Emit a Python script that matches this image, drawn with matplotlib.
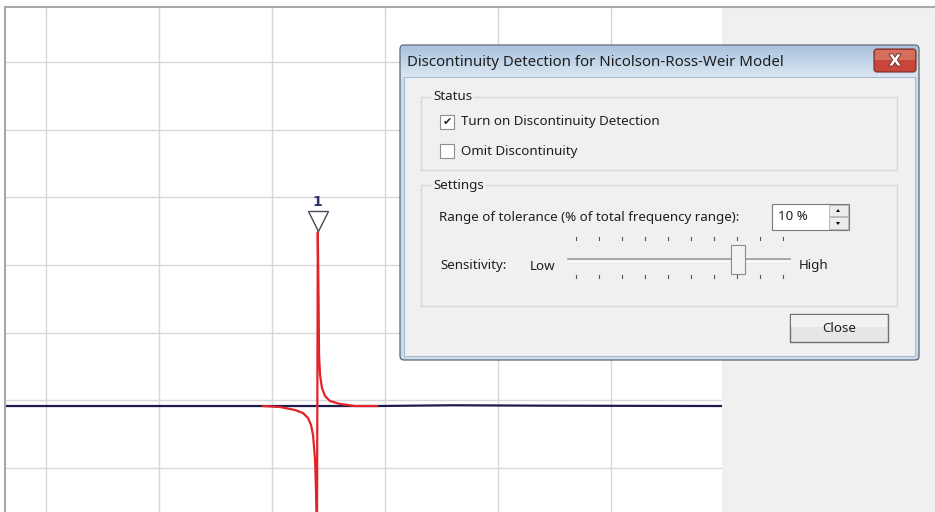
import numpy as np
import matplotlib
matplotlib.use("Agg")
import matplotlib.pyplot as plt
from matplotlib.patches import Rectangle, FancyBboxPatch, Polygon
from matplotlib.colors import to_rgb
import matplotlib.patheffects as pe

plt.rcParams['font.family'] = ['Noto Sans', 'DejaVu Sans']

# trace values, both axes in grid divisions
base_freq = [-0.37, 1.92, 2.93, 3.60, 4.40, 5.99]
base_val = [-0.089, -0.089, -0.089, -0.078, -0.084, -0.089]

disc_freq = [1.920, 2.071, 2.204, 2.274, 2.319, 2.345, 2.363, 2.381, 2.389, 2.398,
             2.405, 2.412, 2.416, 2.425, 2.442, 2.469, 2.513, 2.602, 2.735, 2.929]
disc_val = [-0.089, -0.104, -0.148, -0.193, -0.267, -0.370, -0.519, -0.889, -1.333, -1.93,
            2.489, 1.481, 0.667, 0.370, 0.178, 0.059, -0.015, -0.059, -0.089, -0.089]

marker_freq = 2.405
marker_val = 2.65
marker_label = "1"

title = "Discontinuity Detection for Nicolson-Ross-Weir Model"
status_label = "Status"
check_labels = ["Turn on Discontinuity Detection", "Omit Discontinuity"]
check_state = [True, False]
settings_label = "Settings"
tolerance_label = "Range of tolerance (% of total frequency range):"
tolerance_value = "10 %"
slider_ticks = 10
slider_pos = 7  # thumb sits just past the 7th tick

W, H = 935, 512
fig = plt.figure(figsize=(W / 100, H / 100), dpi=100)

# chart
ax = fig.add_axes([5 / W, 0, 717 / W, 505 / H])
ax.set_xlim(-0.363, 5.982)
ax.set_ylim(-1.659, 5.822)
ax.set_xticks(range(0, 6))
ax.set_yticks(range(-1, 6))
ax.grid(color='#d8d8d8', lw=1)
ax.tick_params(length=0, labelbottom=False, labelleft=False)
for s in ax.spines.values():
    s.set_visible(False)
ax.plot(base_freq, base_val, color='#1c1b4d', lw=1.6, zorder=3)
ax.plot(disc_freq, disc_val, color='#e3232a', lw=1.6, zorder=4)
ax.plot([marker_freq], [marker_val], marker='v', ms=14, mfc='white', mec='#4a4a5a', mew=1, zorder=5)
ax.text(marker_freq, 2.93, marker_label, ha='center', va='center', color='#2e3170',
        fontsize=10, fontweight='bold', family='DejaVu Sans')

# window chrome drawn in pixel space
ui = fig.add_axes([0, 0, 1, 1], zorder=5)
ui.axis('off')
ui.patch.set_alpha(0)

ui.add_patch(Rectangle((722, 7), 213, 505, fc='#f0f0f0', ec='none'))
ui.plot([5, 935], [7, 7], color='#a9a9a9', lw=1.5)
ui.plot([5, 5], [7, 512], color='#a9a9a9', lw=1.5)

# dialog frame
ui.add_patch(FancyBboxPatch((400, 45), 519, 315, boxstyle='round,pad=0,rounding_size=4',
                            fc='#cddcec', ec='#4b5563', lw=0.8, zorder=2))
top, bot = np.array(to_rgb('#a9c3de')), np.array(to_rgb('#dbe7f3'))
t = np.linspace(0, 1, 40)[:, None, None]
img = np.repeat(top + (bot - top) * t, 2, axis=1)
ui.imshow(img, extent=(401, 918, 77, 46), aspect='auto', zorder=3)
ui.add_patch(Rectangle((404, 77), 511, 279, fc='#f0f0f0', ec='#a8bdd2', lw=0.8, zorder=4))
ui.set_xlim(0, W)
ui.set_ylim(H, 0)

ui.text(407, 62, title, ha='left', va='center', fontsize=10.8, color='#1e1e1e', zorder=6)

# close "X" button
ui.add_patch(FancyBboxPatch((874, 49), 42, 23, boxstyle='round,pad=0,rounding_size=3',
                            fc='#c8463a', ec='#7a2a22', lw=0.8, zorder=5))
ui.add_patch(Rectangle((875, 50), 40, 10, fc='#e0897b', ec='none', alpha=0.6, zorder=5))
ui.text(895, 61, "X", ha='center', va='center', color='white', fontsize=11, fontweight='bold',
        family='DejaVu Sans', zorder=6,
        path_effects=[pe.withStroke(linewidth=1.5, foreground='#7a3a30')])

txt = dict(fontsize=9.6, color='#1e1e1e', va='center', ha='left', zorder=7)
lab_box = dict(fc='#f0f0f0', ec='none', pad=1)

# status group
ui.add_patch(Rectangle((421, 97), 476, 73, fc='none', ec='#d0d8de', lw=1, zorder=5))
ui.text(433, 97, status_label, bbox=lab_box, **txt)
for i, (lab, on) in enumerate(zip(check_labels, check_state)):
    cy = 122 + 29 * i
    ui.add_patch(Rectangle((440, cy - 7), 14, 14, fc='white', ec='#8e8f8f', lw=0.8, zorder=6))
    if on:
        ui.text(447, cy, "\u2714", ha='center', va='center', fontsize=8, color='#222222',
                family='DejaVu Sans', zorder=7)
    ui.text(461, cy, lab, **txt)

# settings group
ui.add_patch(Rectangle((421, 185), 476, 121, fc='none', ec='#d0d8de', lw=1, zorder=5))
ui.text(433, 185, settings_label, bbox=lab_box, **txt)
ui.text(439, 218, tolerance_label, **txt)

ui.add_patch(Rectangle((772, 204), 77, 26, fc='white', ec='#7a7a7a', lw=0.8, zorder=6))
ui.text(778, 216, tolerance_value, **txt)
ui.add_patch(Rectangle((829, 205), 19, 11, fc='#ececec', ec='#b0b0b0', lw=0.6, zorder=7))
ui.add_patch(Rectangle((829, 217), 19, 12, fc='#ececec', ec='#b0b0b0', lw=0.6, zorder=7))
ui.add_patch(Polygon([[836, 212], [840, 212], [838, 209]], closed=True, fc='black', zorder=8))
ui.add_patch(Polygon([[836, 222], [840, 222], [838, 225]], closed=True, fc='black', zorder=8))

ui.text(440, 265, "Sensitivity:", **txt)
ui.text(530, 267, "Low", **txt)
ui.text(799, 265, "High", **txt)
ui.plot([568, 790], [259, 259], color='#9a9a9a', lw=1.2, zorder=6)
ui.plot([568, 790], [260.5, 260.5], color='#ffffff', lw=0.8, zorder=6)
tx = np.linspace(576, 783, slider_ticks)
for x in tx:
    ui.plot([x, x], [237, 240], color='#555555', lw=0.8, zorder=6)
    ui.plot([x, x], [275, 278], color='#555555', lw=0.8, zorder=6)
thumb_x = tx[slider_pos] - 6
ui.add_patch(Rectangle((thumb_x, 245), 14, 29, fc='#f3f3f3', ec='#8a8a8a', lw=0.8, zorder=7))

# close button
ui.add_patch(Rectangle((790, 314), 98, 28, fc='#e6e6e6', ec='#707070', lw=1, zorder=6))
ui.add_patch(Rectangle((791, 315), 96, 12, fc='#f2f2f2', ec='none', zorder=6))
ui.text(839, 328, "Close", ha='center', va='center', fontsize=9.6, color='#1e1e1e', zorder=7)

fig.savefig("out.png", dpi=100)
